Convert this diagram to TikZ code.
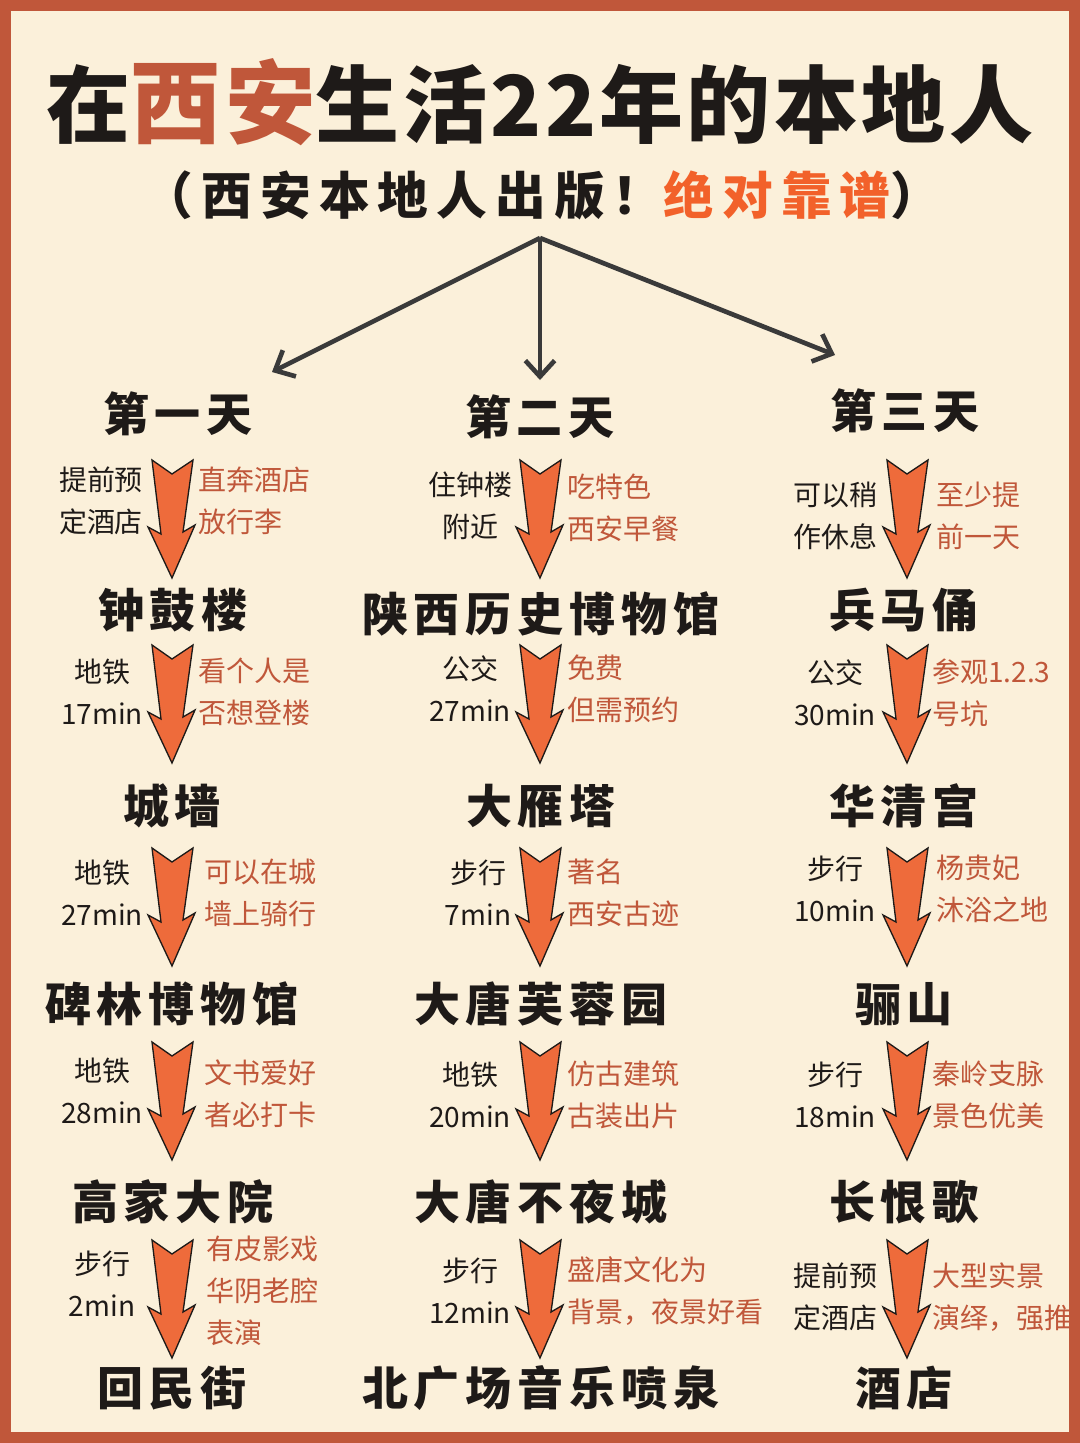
\documentclass[tikz,border=0pt]{standalone}
\usepackage{fontspec}
\setmainfont{Noto Sans CJK SC}
\newfontfamily\hdfont{Noto Sans CJK SC}[LetterSpace=13]
\newfontfamily\subfont{Noto Sans CJK SC}[LetterSpace=16]
\newfontfamily\ttlfont{Noto Sans CJK SC}[LetterSpace=4]
\definecolor{bg}{HTML}{FBF0DA}
\definecolor{frame}{HTML}{C0573A}
\definecolor{rust}{HTML}{C0573A}
\definecolor{brightor}{HTML}{F2612A}
\definecolor{arrowor}{HTML}{EE6B3B}
\definecolor{ink}{HTML}{1E1A18}
\definecolor{lineg}{HTML}{3A3A3A}
\tikzset{
  hd/.style={font=\hdfont\bfseries\fontsize{34.5}{38}\selectfont, text=ink, inner sep=0},
  lt/.style={font=\fontsize{21}{31.5}\selectfont, text=ink, align=center, inner sep=0},
  rt/.style={font=\fontsize{21}{31.5}\selectfont, text=rust, align=left, anchor=west, inner sep=0},
  bigarrow/.style={fill=arrowor, draw=ink, line width=1pt, line join=miter},
  conn/.style={draw=lineg, line width=3.5pt, -{Straight Barb[length=12pt,width=22pt,line width=3.5pt]}},
}
\usetikzlibrary{arrows.meta}
\newcommand{\darr}[2]{\draw[bigarrow] (#1-20,#2) -- (#1,#2+14) -- (#1+21,#2) -- (#1+11,#2+72) -- (#1+23,#2+65) -- (#1,#2+118) -- (#1-24,#2+67) -- (#1-11,#2+74) -- cycle;}
\begin{document}
\begin{tikzpicture}[x=0.75pt,y=-0.75pt]
\fill[frame] (0,0) rectangle (1080,1443);
\fill[bg] (11,11) rectangle (1069,1432);
\useasboundingbox (0,0) rectangle (1080,1443);
% title
\node[font=\ttlfont\bfseries\fontsize{63}{66}\selectfont, text=ink, inner sep=0] (title) at (540,102) {在\textcolor{rust}{\fontsize{68}{70}\selectfont 西安}生活22年的本地人};
\node[font=\subfont\bfseries\fontsize{38}{40}\selectfont, text=ink, inner sep=0] (sub) at (542,195) {（西安本地人出版！\textcolor{brightor}{绝对靠谱}）};
\coordinate (src) at (540,238);
% headers
\node[hd] (d1) at (178,414) {第一天};
\node[hd] (d2) at (540,417) {第二天};
\node[hd] (d3) at (905,411) {第三天};
\draw[conn] (src) -- (272,372);
\draw[conn] (src) -- (540,380);
\draw[conn] (src) -- (835,355);
% stations col1
\node[hd] (a1) at (173,610) {钟鼓楼};
\node[hd] (a2) at (172,806) {城墙};
\node[hd] (a3) at (172,1004) {碑林博物馆};
\node[hd] (a4) at (173,1202) {高家大院};
\node[hd] (a5) at (172,1388) {回民街};
% col2
\node[hd] (b1) at (541,614) {陕西历史博物馆};
\node[hd] (b2) at (541,806) {大雁塔};
\node[hd] (b3) at (541,1004) {大唐芙蓉园};
\node[hd] (b4) at (541,1202) {大唐不夜城};
\node[hd] (b5) at (541,1388) {北广场音乐喷泉};
% col3
\node[hd] (c1) at (904,610) {兵马俑};
\node[hd] (c2) at (904,806) {华清宫};
\node[hd] (c3) at (904,1004) {骊山};
\node[hd] (c4) at (904,1202) {长恨歌};
\node[hd] (c5) at (904,1388) {酒店};
% arrows
\foreach \yy in {460,645,848,1042,1240}{\darr{172}{\yy}\darr{540}{\yy}\darr{907}{\yy}}
% col1 labels
\node[lt] (l11) at (101,501) {提前预\\定酒店};
\node[rt] (r11) at (198,501) {直奔酒店\\放行李};
\node[lt] (l12) at (102,692) {地铁\\17min};
\node[rt] (r12) at (198,692) {看个人是\\否想登楼};
\node[lt] (l13) at (102,893) {地铁\\27min};
\node[rt] (r13) at (204,893) {可以在城\\墙上骑行};
\node[lt] (l14) at (102,1091) {地铁\\28min};
\node[rt] (r14) at (204,1094) {文书爱好\\者必打卡};
\node[lt] (l15) at (102,1284) {步行\\2min};
\node[rt] (r15) at (206,1291) {有皮影戏\\华阴老腔\\表演};
% col2 labels
\node[lt] (l21) at (470,506) {住钟楼\\附近};
\node[rt] (r21) at (567,508) {吃特色\\西安早餐};
\node[lt] (l22) at (470,689) {公交\\27min};
\node[rt] (r22) at (567,689) {免费\\但需预约};
\node[lt] (l23) at (478,893) {步行\\7min};
\node[rt] (r23) at (567,893) {著名\\西安古迹};
\node[lt] (l24) at (470,1095) {地铁\\20min};
\node[rt] (r24) at (567,1095) {仿古建筑\\古装出片};
\node[lt] (l25) at (470,1291) {步行\\12min};
\node[rt] (r25) at (567,1291) {盛唐文化为\\背景，夜景好看};
% col3 labels
\node[lt] (l31) at (835,516) {可以稍\\作休息};
\node[rt] (r31) at (936,516) {至少提\\前一天};
\node[lt] (l32) at (835,693) {公交\\30min};
\node[rt] (r32) at (932,693) {参观1.2.3\\号坑};
\node[lt] (l33) at (835,889) {步行\\10min};
\node[rt] (r33) at (936,889) {杨贵妃\\沐浴之地};
\node[lt] (l34) at (835,1095) {步行\\18min};
\node[rt] (r34) at (932,1095) {秦岭支脉\\景色优美};
\node[lt] (l35) at (835,1297) {提前预\\定酒店};
\node[rt] (r35) at (932,1297) {大型实景\\演绎，强推};
\end{tikzpicture}
\end{document}
